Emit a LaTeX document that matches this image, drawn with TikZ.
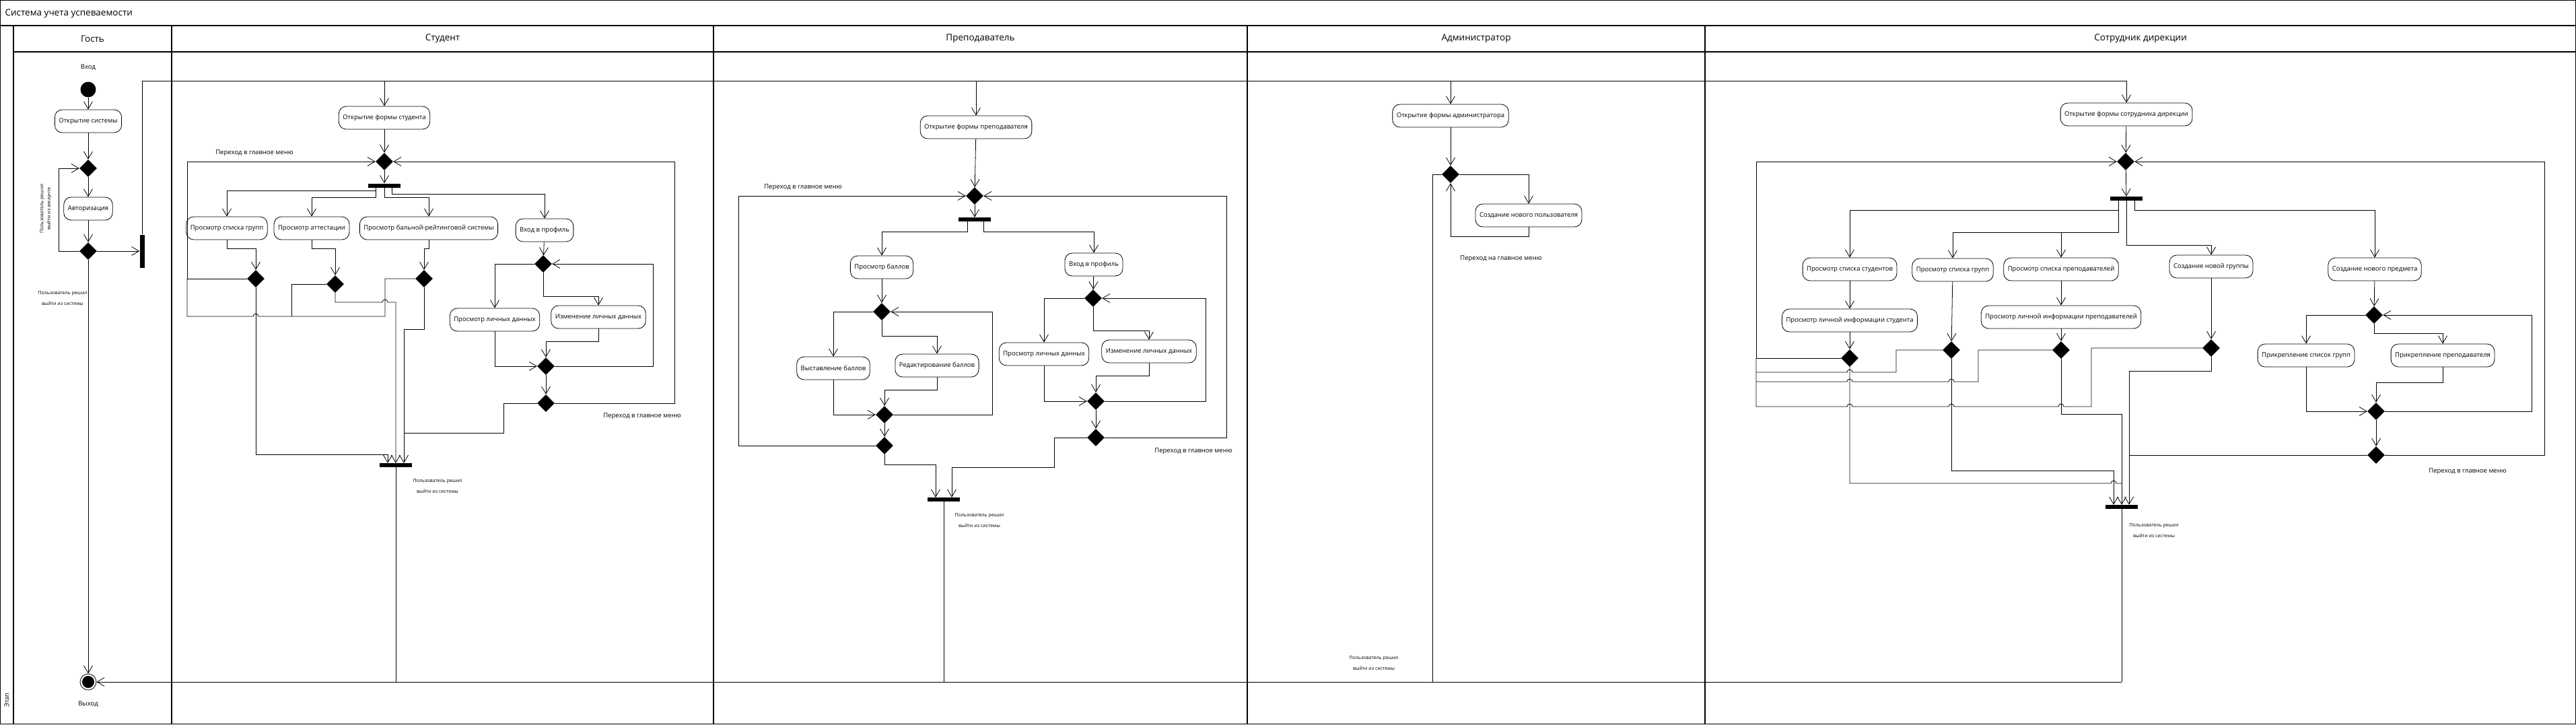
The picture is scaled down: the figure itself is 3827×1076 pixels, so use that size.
\documentclass[tikz,border=0pt]{standalone}
\usepackage{fontspec}
\setmainfont{Open Sans}
\usepackage{tikz}
\usetikzlibrary{arrows.meta, positioning, shapes.geometric}

\newcommand{\actfont}{\fontsize{9.5}{11}\selectfont}
\newcommand{\smallnotefont}{\fontsize{7}{8.5}\selectfont}
\newcommand{\lanefont}{\fontsize{13.5}{16}\selectfont}

\begin{document}
\begin{tikzpicture}[x=1pt, y=-1pt, >={Straight Barb[length=11pt, width=13pt]},
    act/.style={rectangle, rounded corners=11pt, draw, line width=0.8pt, minimum height=34pt, inner xsep=6pt, font=\actfont},
    dec/.style={diamond, fill=black, inner sep=0pt, minimum width=26pt, minimum height=26pt},
    forkbar/.style={rectangle, fill=black, inner sep=0pt, minimum width=48pt, minimum height=6pt},
    vforkbar/.style={rectangle, fill=black, inner sep=0pt, minimum width=7pt, minimum height=49pt},
    startnode/.style={circle, fill=black, inner sep=0pt, minimum size=23pt},
    endnode/.style={circle, draw, line width=0.8pt, inner sep=0pt, minimum size=24pt,
        path picture={\fill (path picture bounding box.center) circle (9pt);}},
    flow/.style={->, line width=0.8pt},
    conn/.style={line width=0.8pt},
    lane/.style={line width=1.2pt},
    note/.style={font=\smallnotefont, align=center, inner sep=1pt},
    menulbl/.style={font=\actfont, inner sep=1pt},
    head/.style={font=\lanefont}]

    \useasboundingbox (0,0) rectangle (3827,1076);

    % Frame and lanes
    \draw[lane] (0.6,0.6) rectangle (3826.4,1075.4);
    \draw[lane] (0,38) -- (3827,38);
    \draw[lane] (20,38) -- (20,1076);
    \draw[lane] (20,77) -- (3827,77);
    \draw[lane] (255,38) -- (255,1076);
    \draw[lane] (1060,38) -- (1060,1076);
    \draw[lane] (1853,38) -- (1853,1076);
    \draw[lane] (2533,38) -- (2533,1076);

    \node[head, anchor=west] (title) at (4,20) {Система учета успеваемости};
    \node[head] (hGuest) at (137.5,57.5) {Гость};
    \node[head] (hStudent) at (657.5,57.5) {Студент};
    \node[head] (hTeacher) at (1456.5,57.5) {Преподаватель};
    \node[head] (hAdmin) at (2193,57.5) {Администратор};
    \node[head] (hDirect) at (3180,57.5) {Сотрудник дирекции};
    \node[font=\actfont, rotate=90] (stage) at (10,1040) {Этап};

    % Nodes: guest
    \node[startnode] (start) at (131,133) {};
    \node[menulbl] (inLbl) at (131,100) {Вход};
    \node[act, minimum width=99pt] (gOpen) at (131,180) {Открытие системы};
    \node[dec] (gD1) at (131,250) {};
    \node[act, minimum width=72pt] (gAuth) at (131,310) {Авторизация};
    \node[dec] (gD2) at (131,373) {};
    \node[vforkbar] (gFork) at (211,373) {};
    \node[endnode] (exit) at (131,1013) {};
    \node[menulbl] (outLbl) at (131,1046) {Выход};
    \node[note, rotate=90] (authNote) at (68,310) {Пользователь решил\\[2pt]выйти из аккаунта};
    \node[note] (gExitNote) at (93,443) {Пользователь решил\\[8pt]выйти из системы};

    % Nodes: student
    \coordinate (busS) at (571,120);
    \node[act, minimum width=135pt] (sOpen) at (571,175) {Открытие формы студента};
    \node[dec] (sD0) at (571,240) {};
    \node[forkbar] (sFork) at (571,275.5) {};
    \node[act, minimum width=118pt] (sGroups) at (337,339) {Просмотр списка групп};
    \node[act, minimum width=111pt] (sAttest) at (463,339) {Просмотр аттестации};
    \node[act, minimum width=201pt] (sRating) at (637,339) {Просмотр бальной-рейтинговой системы};
    \node[act, minimum width=85pt] (sProfile) at (809,342) {Вход в профиль};
    \node[dec] (sD1) at (380,414) {};
    \node[dec] (sD2) at (498,422) {};
    \node[dec] (sD3) at (630,414) {};
    \node[dec] (sP1) at (807,392) {};
    \node[act, minimum width=131pt] (sView) at (735,475) {Просмотр личных данных};
    \node[act, minimum width=137pt] (sEdit) at (889,471) {Изменение личных данных};
    \node[dec] (sP2) at (811,544) {};
    \node[dec] (sP3) at (811,599) {};
    \node[forkbar] (sJoin) at (588,691) {};
    \node[menulbl] (sMenuL) at (378,227) {Переход в главное меню};
    \node[menulbl] (sMenuR) at (954,618) {Переход в главное меню};
    \node[note] (sExitNote) at (650,722) {Пользователь решил\\[8pt]выйти из системы};

    % Nodes: teacher
    \coordinate (busT) at (1450,120);
    \node[act, minimum width=165pt] (tOpen) at (1450,189) {Открытие формы преподавателя};
    \node[dec] (tD0) at (1448,291) {};
    \node[forkbar] (tFork) at (1448,326) {};
    \node[act, minimum width=93pt] (tView) at (1310,397) {Просмотр баллов};
    \node[act, minimum width=86pt] (tProfile) at (1625,393) {Вход в профиль};
    \node[dec] (tD1) at (1310,463) {};
    \node[act, minimum width=108pt] (tSet) at (1238,547) {Выставление баллов};
    \node[act, minimum width=123pt] (tEdit) at (1392,543) {Редактирование баллов};
    \node[dec] (tD2) at (1314,616) {};
    \node[dec] (tD3) at (1314,662) {};
    \node[dec] (tP1) at (1624,443) {};
    \node[act, minimum width=132pt] (tPView) at (1551,526) {Просмотр личных данных};
    \node[act, minimum width=140pt] (tPEdit) at (1707,522) {Изменение личных данных};
    \node[dec] (tP2) at (1628,596) {};
    \node[dec] (tP3) at (1628,650) {};
    \node[forkbar] (tJoin) at (1402,742) {};
    \node[menulbl] (tMenuL) at (1193,278) {Переход в главное меню};
    \node[menulbl] (tMenuR) at (1773,670) {Переход в главное меню};
    \node[note] (tExitNote) at (1455,773) {Пользователь решил\\[8pt]выйти из системы};

    % Nodes: admin
    \coordinate (busA) at (2155,120);
    \node[act, minimum width=170pt] (aOpen) at (2155,172) {Открытие формы администратора};
    \node[dec] (aD) at (2155,259) {};
    \node[act, minimum width=155pt] (aNew) at (2271,320) {Создание нового пользователя};
    \node[menulbl] (aMenu) at (2230,384) {Переход на главное меню};
    \node[note] (aExitNote) at (2041,985) {Пользователь решил\\[8pt]выйти из системы};

    % Nodes: direction
    \coordinate (busD) at (3159,120);
    \node[act, minimum width=194pt] (dOpen) at (3159,170) {Открытие формы сотрудника дирекции};
    \node[dec] (dD0) at (3158,240) {};
    \node[forkbar] (dFork) at (3159,295) {};
    \node[act, minimum width=137pt] (dStud) at (2748,400) {Просмотр списка студентов};
    \node[act, minimum width=118pt] (dGroups) at (2901,401) {Просмотр списка групп};
    \node[act, minimum width=167pt] (dTeach) at (3062,400) {Просмотр списка преподавателей};
    \node[act, minimum width=122pt] (dNewGr) at (3285,396) {Создание новой группы};
    \node[act, minimum width=136pt] (dNewSub) at (3528,400) {Создание нового предмета};
    \node[act, minimum width=198pt] (dStudInfo) at (2748,476) {Просмотр личной информации студента};
    \node[act, minimum width=231pt] (dTeachInfo) at (3062,471) {Просмотр личной информации преподавателей};
    \node[dec] (dE1) at (2748,532) {};
    \node[dec] (dE2) at (2899,520) {};
    \node[dec] (dE3) at (3062,520) {};
    \node[dec] (dE4) at (3285,517) {};
    \node[dec] (dG1) at (3527,468) {};
    \node[act, minimum width=141pt] (dAttGr) at (3426,528) {Прикрепление список групп};
    \node[act, minimum width=151pt] (dAttT) at (3629,528) {Прикрепление преподавателя};
    \node[dec] (dG2) at (3530,611) {};
    \node[dec] (dG3) at (3530,676) {};
    \node[forkbar] (dJoin) at (3152,753) {};
    \coordinate (dBr) at (3062,345);
    \coordinate (exitR) at (3152,1013);
    \node[menulbl] (dMenu) at (3666,700) {Переход в главное меню};
    \node[note] (dExitNote) at (3200,788) {Пользователь решил\\[8pt]выйти из системы};

    % Edges: guest
    \draw[flow] (start) -- (gOpen);
    \draw[flow] (gOpen) -- (gD1);
    \draw[flow] (gD1) -- (gAuth);
    \draw[flow] (gAuth) -- (gD2);
    \draw[flow] (gD2.west) -- (87,373) |- (gD1.west);
    \draw[flow] (gD2.east) -- (gFork.west);
    \draw[flow] (gD2) -- (exit);
    \draw[conn] (gFork.north) |- (busD);
    \draw[flow] (exitR) -- (exit);

    % Edges: student
    \draw[flow] (busS) -- (sOpen);
    \draw[flow] (sOpen) -- (sD0);
    \draw[flow] (sD0) -- (sFork);
    \draw[flow] ([xshift=-13pt]sFork.south) -- ++(0,4.5) -| (sGroups.north);
    \draw[flow] ([xshift=-13pt]sFork.south) -- ++(0,14.5) -| (sAttest.north);
    \draw[flow] (sFork.south) -- ++(0,14.5) -| (sRating.north);
    \draw[flow] ([xshift=11pt]sFork.south) -- ++(0,9.5) -| (sProfile.north);
    \draw[flow] (sGroups.south) -- ++(0,13) -| (sD1.north);
    \draw[flow] (sAttest.south) -- ++(0,13) -| (sD2.north);
    \draw[flow] (sRating.south) -- ++(0,13) -| (sD3.north);
    \draw[flow] (sD1.west) -- (278,414) -- (278,240) -- (sD0.west);
    \draw[conn] (sD2.west) -- (433,422) -- (433,470);
    \draw[conn] (sD3.west) -- (572,414) -- (572,470) -- (384,470)
        arc[start angle=0, end angle=180, radius=4pt] -- (278,470) -- (278,414);
    \draw[flow] (sD1.south) -- (380,675) -| ([xshift=-12pt]sJoin.north);
    \draw[flow] (sD2.south) -- (498,449) -- (568,449)
        arc[start angle=180, end angle=0, radius=4pt] -| (sJoin.north);
    \draw[flow] (sD3.south) -- (630,489) -| ([xshift=12pt]sJoin.north);
    \draw[flow] (sProfile) -- (sP1);
    \draw[flow] (sP1.west) -| (sView.north);
    \draw[flow] (sP1.south) -- ++(0,35) -| (sEdit.north);
    \draw[flow] (sView.south) |- (sP2.west);
    \draw[flow] (sEdit.south) -- ++(0,19) -| (sP2.north);
    \draw[flow] (sP2.east) -- (970,544) |- (sP1.east);
    \draw[flow] (sP2) -- (sP3);
    \draw[flow] (sP3.east) -- (1002,599) |- (sD0.east);
    \draw[conn] (sP3.west) -- (748,599) |- (600,643);
    \draw[conn] (sJoin.south) -- (588,1013);

    % Edges: teacher
    \draw[flow] (busT) -- (tOpen);
    \draw[flow] (tOpen) -- (tD0);
    \draw[flow] (tD0) -- (tFork);
    \draw[flow] ([xshift=-11pt]tFork.south) -- ++(0,15) -| (tView.north);
    \draw[flow] ([xshift=13pt]tFork.south) -- ++(0,15) -| (tProfile.north);
    \draw[flow] (tView) -- (tD1);
    \draw[flow] (tD1.west) -| (tSet.north);
    \draw[flow] (tD1.south) -- ++(0,23) -| (tEdit.north);
    \draw[flow] (tSet.south) |- (tD2.west);
    \draw[flow] (tEdit.south) -- ++(0,19) -| (tD2.north);
    \draw[flow] (tD2.east) -- (1474,616) |- (tD1.east);
    \draw[flow] (tD2) -- (tD3);
    \draw[flow] (tD3.west) -- (1097,662) |- (tD0.west);
    \draw[flow] (tD3.south) -- ++(0,15) -| ([xshift=-12pt]tJoin.north);
    \draw[flow] (tProfile) -- (tP1);
    \draw[flow] (tP1.west) -| (tPView.north);
    \draw[flow] (tP1.south) -- ++(0,35) -| (tPEdit.north);
    \draw[flow] (tPView.south) |- (tP2.west);
    \draw[flow] (tPEdit.south) -- ++(0,19) -| (tP2.north);
    \draw[flow] (tP2.east) -- (1791,596) |- (tP1.east);
    \draw[flow] (tP2) -- (tP3);
    \draw[flow] (tP3.east) -- (1822,650) |- (tD0.east);
    \draw[flow] (tP3.west) -- (1566,650) -- (1566,694) -| ([xshift=12pt]tJoin.north);
    \draw[conn] (tJoin.south) -- (1402,1013);

    % Edges: admin
    \draw[flow] (busA) -- (aOpen);
    \draw[flow] (aOpen) -- (aD);
    \draw[flow] (aD.east) -| (aNew.north);
    \draw[flow] (aNew.south) -- ++(0,14) -| (aD.south);
    \draw[conn] (aD.west) -- (2128,259) -- (2128,1013);

    % Edges: direction
    \draw[flow] (busD) -- (dOpen);
    \draw[flow] (dOpen) -- (dD0);
    \draw[flow] (dD0) -- (dFork);
    \draw[flow] ([xshift=-12pt]dFork.south) -- ++(0,14) -| (dStud.north);
    \draw[flow] ([xshift=-12pt]dFork.south) -- ++(0,47) -| (dGroups.north);
    \draw[flow] (dBr) -- (dTeach.north);
    \draw[flow] (dFork.south) -- ++(0,66) -| (dNewGr.north);
    \draw[flow] ([xshift=12pt]dFork.south) -- ++(0,14) -| (dNewSub.north);
    \draw[flow] (dStud) -- (dStudInfo);
    \draw[flow] (dStudInfo) -- (dE1);
    \draw[flow] (dGroups) -- (dE2);
    \draw[flow] (dTeach) -- (dTeachInfo);
    \draw[flow] (dTeachInfo) -- (dE3);
    \draw[flow] (dNewGr) -- (dE4);
    \draw[flow] (dNewSub) -- (dG1);
    \draw[flow] (dG1.west) -| (dAttGr.north);
    \draw[flow] (dG1.south) -- ++(0,14) -| (dAttT.north);
    \draw[flow] (dAttGr.south) |- (dG2.west);
    \draw[flow] (dAttT.south) -- ++(0,23) -| (dG2.north);
    \draw[flow] (dG2.east) -- (3761,611) |- (dG1.east);
    \draw[flow] (dG2) -- (dG3);
    \draw[flow] (dG3.east) -- (3780,676) |- (dD0.east);
    \draw[conn] (dG3.west) -- (3163,676);
    \draw[flow] (dE1.west) -- (2609,532) |- (dD0.west);
    \draw[conn] (dE2.west) -- (2817,520) -- (2817,553) -- (2752,553)
        arc[start angle=0, end angle=180, radius=4pt] -- (2609,553);
    \draw[conn] (dE3.west) -- (2939,520) -- (2939,567) -- (2903,567)
        arc[start angle=0, end angle=180, radius=4pt] -- (2752,567)
        arc[start angle=0, end angle=180, radius=4pt] -- (2609,567);
    \draw[conn] (dE4.west) -- (3107,517) -- (3107,604) -- (3066,604)
        arc[start angle=0, end angle=180, radius=4pt] -- (2903,604)
        arc[start angle=0, end angle=180, radius=4pt] -- (2752,604)
        arc[start angle=0, end angle=180, radius=4pt] -- (2609,604) -- (2609,532);
    \draw[conn] (dE1.south) -- (2748,718) -- (3136,718)
        arc[start angle=180, end angle=0, radius=4pt] -- (3152,718);
    \draw[flow] (dE2.south) -- (2899,699) -| ([xshift=-12pt]dJoin.north);
    \draw[flow] (dE3.south) -- (3062,615) -| (dJoin.north);
    \draw[flow] (dE4.south) -- (3285,551) -| ([xshift=11pt]dJoin.north);
    \draw[conn] (dJoin.south) -- (exitR);
\end{tikzpicture}
\end{document}
